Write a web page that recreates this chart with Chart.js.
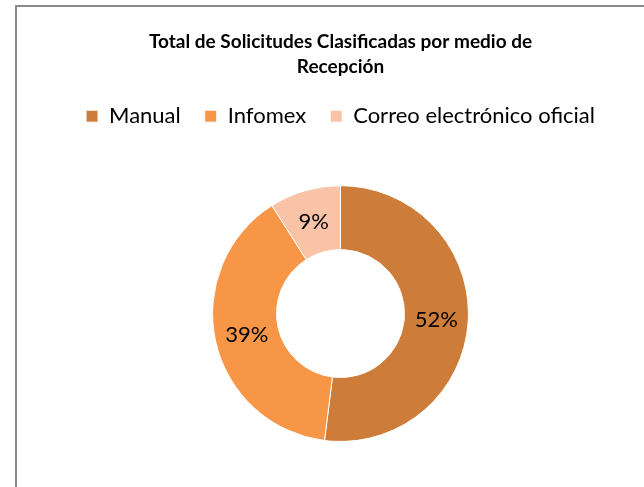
<!DOCTYPE html>
<html>
<head>
<meta charset="utf-8">
<script src="https://cdn.jsdelivr.net/npm/chart.js@4"></script>
<style>
    html, body { margin: 0; padding: 0; background: #fff; overflow: hidden; }
    body { position: relative; width: 644px; height: 487px; }
    #marco { position: absolute; left: 15px; top: 5px; width: 700px; height: 600px; border: 2px solid #8a8a8a; }
    #grafica { position: absolute; left: 0; top: 0; }
</style>
</head>
<body>
<div id="marco"></div>
<canvas id="grafica" width="681" height="487"></canvas>
<script>
const medios = ['Manual', 'Infomex', 'Correo electrónico oficial'];
const porcentajes = [52, 39, 9];
const colores = ['#CD7C39', '#F79646', '#F9C3A8'];
const titulo = ['Total de Solicitudes Clasificadas por medio de', 'Recepción'];

const etiquetas = {
    id: 'etiquetas',
    afterDatasetsDraw(chart) {
        const ctx = chart.ctx;
        const meta = chart.getDatasetMeta(0);
        ctx.save();
        ctx.font = '22px Lato';
        ctx.fillStyle = '#000';
        ctx.textAlign = 'center';
        ctx.textBaseline = 'middle';
        meta.data.forEach((arc, i) => {
            const p = arc.tooltipPosition();
            ctx.fillText(porcentajes[i] + '%', p.x, p.y);
        });
        ctx.restore();
    }
};

// espacio extra bajo la leyenda
const espacioLeyenda = {
    id: 'espacioLeyenda',
    beforeInit(chart) {
        const fitOriginal = chart.legend.fit;
        chart.legend.fit = function () {
            fitOriginal.bind(chart.legend)();
            this.height += 48;
        };
    }
};

const grafica = new Chart(document.getElementById('grafica'), {
    type: 'doughnut',
    data: {
        labels: medios,
        datasets: [{
            data: porcentajes,
            backgroundColor: colores,
            borderColor: '#fff',
            borderWidth: 1
        }]
    },
    options: {
        responsive: false,
        animation: false,
        cutout: '50%',
        layout: { padding: { top: 0, bottom: 45 } },
        plugins: {
            tooltip: { enabled: false },
            title: {
                display: true,
                text: titulo,
                color: '#000',
                font: { family: 'Lato', size: 19, weight: 'bold', lineHeight: 1.32 },
                padding: { top: 29, bottom: 2 }
            },
            legend: {
                position: 'top',
                labels: {
                    color: '#000',
                    font: { family: 'Lato', size: 22 },
                    boxWidth: 12,
                    boxHeight: 12,
                    padding: 24
                }
            }
        }
    },
    plugins: [etiquetas, espacioLeyenda]
});
</script>
</body>
</html>
